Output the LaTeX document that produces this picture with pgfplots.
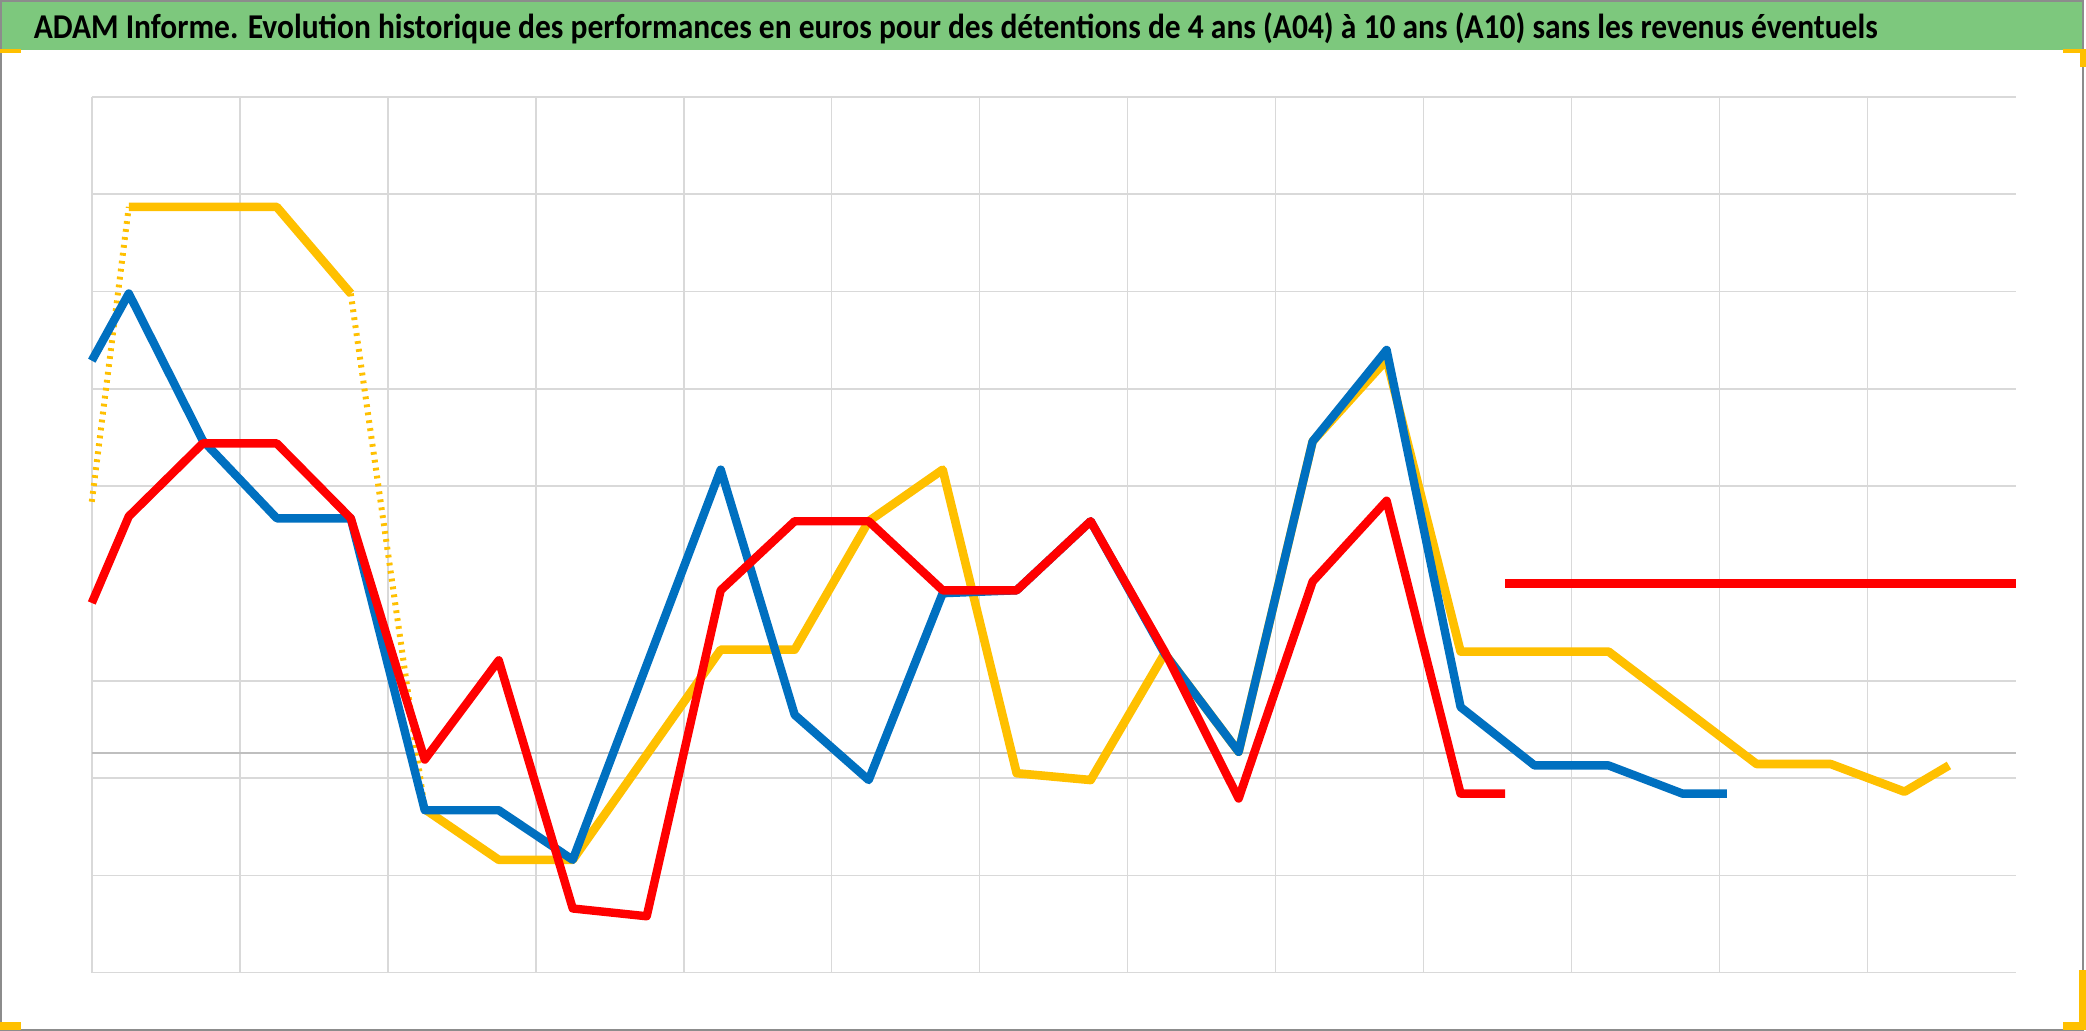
\documentclass[border=0pt]{standalone}
\usepackage{fontspec}
\setmainfont{Carlito}
\usepackage{pgfplots}
\pgfplotsset{compat=1.18}
\usepackage{pgfplotstable}
\definecolor{cblue}{RGB}{0,112,192}
\definecolor{cyellow}{RGB}{255,192,0}
\definecolor{cred}{RGB}{255,0,0}
\definecolor{cgreen}{RGB}{125,200,125}
\definecolor{cgrid}{RGB}{217,217,217}
\definecolor{cdark}{RGB}{191,191,191}
\definecolor{cborder}{RGB}{140,140,140}

% yellow series, split where the reference draws it sparsely
\pgfplotstableread{
x y
0 4.84
0.25 7.87
}\yelA
\pgfplotstableread{
x y
0.25 7.87
1.25 7.87
1.75 6.98
}\yelB
\pgfplotstableread{
x y
1.75 6.98
2.25 1.68
}\yelC
\pgfplotstableread{
x y
2.25 1.68
2.75 1.16
3.25 1.16
4.25 3.32
4.75 3.32
5.25 4.64
5.75 5.17
6.25 2.05
6.75 1.98
7.25 3.28
7.75 2.27
8.25 5.46
8.75 6.30
9.25 3.30
10.25 3.30
11.25 2.145
11.75 2.145
12.25 1.86
12.55 2.13
}\yelD

\pgfplotstableread{
x y
0 6.29
0.25 6.98
0.75 5.47
1.25 4.67
1.75 4.67
2.25 1.67
2.75 1.67
3.25 1.16
4.25 5.17
4.75 2.65
5.25 1.98
5.75 3.90
6.25 3.93
6.75 4.64
7.25 3.28
7.75 2.27
8.25 5.46
8.75 6.40
9.25 2.73
9.75 2.13
10.25 2.13
10.75 1.84
11.05 1.84
}\blu

\pgfplotstableread{
x y
0 3.80
0.25 4.69
0.75 5.44
1.25 5.44
1.75 4.67
2.25 2.19
2.75 3.21
3.25 0.66
3.75 0.58
4.25 3.93
4.75 4.64
5.25 4.64
5.75 3.93
6.25 3.93
6.75 4.64
7.25 3.30
7.75 1.79
8.25 4.02
8.75 4.85
9.25 1.84
9.55 1.84
}\red

\pgfplotstableread{
x y
9.55 4.0
13 4.0
}\redflat

\begin{document}
\begin{tikzpicture}
\useasboundingbox (0,0) rectangle (1043pt,515.5pt);
\fill[white] (0,0) rectangle (1043pt,515.5pt);
\fill[cgreen] (0.5pt,490.5pt) rectangle (1041pt,514.5pt);
\draw[cborder, line width=1pt] (0.5pt,0.5pt) rectangle (1041.5pt,515pt);
% selection handles
\fill[cyellow] (0,489pt) rectangle (10.5pt,491pt);
\fill[cyellow] (0,0.5pt) rectangle (10.5pt,4.5pt);
\fill[cyellow] (1031.5pt,489pt) rectangle (1043pt,491pt);
\fill[cyellow] (1040pt,482pt) rectangle (1043pt,491pt);
\fill[cyellow] (1039.5pt,0.5pt) rectangle (1043pt,30.5pt);
\fill[cyellow] (1031.5pt,0.5pt) rectangle (1043pt,4.5pt);
\node[anchor=base west, inner sep=0pt, font=\fontsize{17.4}{20}\selectfont\bfseries] at (16.75pt,496pt) {\scalebox{0.905}[1]{ADAM Informe. Evolution historique des performances en euros pour des détentions de 4 ans (A04) à 10 ans (A10) sans les revenus éventuels}};
\begin{axis}[at={(45.9pt,29.15pt)}, anchor=south west,
  width=961.85pt, height=437.85pt, scale only axis,
  xmin=0, xmax=13, ymin=0, ymax=9,
  xtick={0,...,12}, ytick={0,1,2,3,5,6,7,8,9},
  xticklabels={}, yticklabels={},
  grid=major, grid style={cgrid, line width=0.8pt},
  axis line style={draw=none}, major tick length=0pt,
  clip=false]
\addplot[cdark, line width=0.9pt] coordinates {(0,2.26) (13,2.26)};
\addplot[cyellow, line width=3pt, dash pattern=on 1.4pt off 2.6pt] table {\yelA};
\addplot[cyellow, line width=4.3pt, line join=round] table {\yelB};
\addplot[cyellow, line width=3pt, dash pattern=on 1.4pt off 2.6pt] table {\yelC};
\addplot[cyellow, line width=4.3pt, line join=round] table {\yelD};
\addplot[cblue, line width=4.2pt, line join=round] table {\blu};
\addplot[cred, line width=4.2pt, line join=round] table {\red};
\addplot[cred, line width=4.3pt] table {\redflat};
\end{axis}
\end{tikzpicture}
\end{document}
